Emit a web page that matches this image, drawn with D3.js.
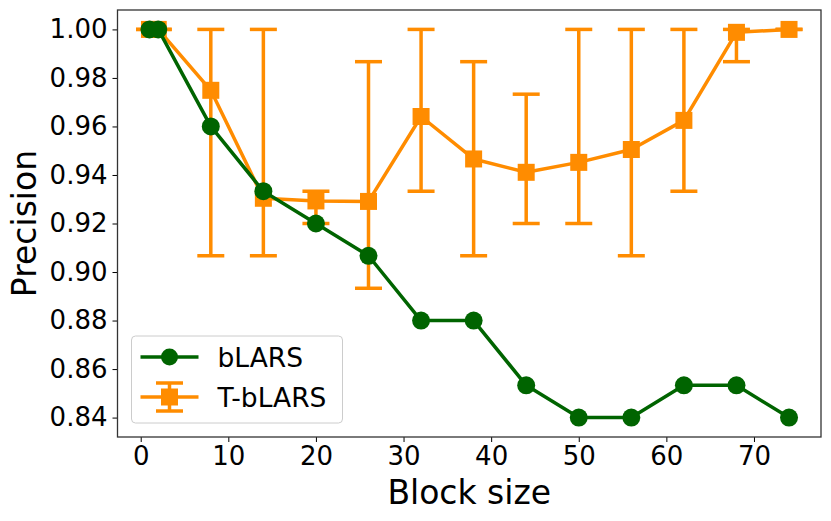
<!DOCTYPE html>
<html>
<head>
<meta charset="utf-8">
<script src="https://cdn.jsdelivr.net/npm/d3@7"></script>
<style>
  body { margin: 0; background: #fff; }
  text { font-family: "DejaVu Sans", sans-serif; fill: #000; }
</style>
</head>
<body>
<div id="chart"></div>
<script>
const blockSizes = [1, 2, 8, 14, 20, 26, 32, 38, 44, 50, 56, 62, 68, 74];
const blarsPrecision = [1.0, 1.0, 0.96, 0.9333, 0.92, 0.9067, 0.88, 0.88, 0.8533, 0.84, 0.84, 0.8533, 0.8533, 0.84];
const tblarsMean = [1.0, 1.0, 0.9749, 0.9304, 0.9293, 0.9291, 0.9641, 0.9466, 0.9411, 0.9452, 0.9505, 0.9625, 0.9988, 1.0];
const tblarsLow = [1.0, 1.0, 0.9067, 0.9067, 0.92, 0.8933, 0.9333, 0.9067, 0.92, 0.92, 0.9067, 0.9333, 0.9867, 1.0];
const tblarsHigh = [1.0, 1.0, 1.0, 1.0, 0.9333, 0.9867, 1.0, 0.9867, 0.9733, 1.0, 1.0, 1.0, 1.0, 1.0];
const xTicks = [0, 10, 20, 30, 40, 50, 60, 70];
const yTicks = [0.84, 0.86, 0.88, 0.90, 0.92, 0.94, 0.96, 0.98, 1.00];

const width = 831, height = 521,
      margin = {top: 10, right: 10, bottom: 84, left: 117.5};

const green = "#006400", orange = "#ff8c00";

const x = d3.scaleLinear().domain([-2.65, 77.65]).range([margin.left, width - margin.right]);
const y = d3.scaleLinear().domain([0.832, 1.008]).range([height - margin.bottom, margin.top]);

const svg = d3.select("#chart").append("svg")
  .attr("width", width)
  .attr("height", height);

// axes
const xAxis = svg.append("g")
  .attr("transform", `translate(0,${height - margin.bottom})`)
  .call(d3.axisBottom(x).tickValues(xTicks).tickSize(5).tickPadding(5).tickFormat(d3.format("d")));
const yAxis = svg.append("g")
  .attr("transform", `translate(${margin.left},0)`)
  .call(d3.axisLeft(y).tickValues(yTicks).tickSize(5).tickPadding(5).tickFormat(d3.format(".2f")));
[xAxis, yAxis].forEach(g => {
  g.select(".domain").remove();
  g.selectAll(".tick line").attr("stroke", "#000").attr("stroke-width", 1);
  g.selectAll(".tick text").style("font-size", "26px").attr("fill", "#000");
});

// T-bLARS error bars
const tb = blockSizes.map((d, i) => ({x: d, y: tblarsMean[i], lo: tblarsLow[i], hi: tblarsHigh[i]}));
const capHalf = 13.5;
const eb = svg.append("g").attr("stroke", orange).attr("stroke-width", 3.5);
eb.selectAll("line.bar").data(tb.filter(d => d.hi > d.lo)).enter().append("line")
  .attr("x1", d => x(d.x)).attr("x2", d => x(d.x))
  .attr("y1", d => y(d.lo)).attr("y2", d => y(d.hi));
eb.selectAll("line.caplo").data(tb).enter().append("line")
  .attr("x1", d => x(d.x) - capHalf).attr("x2", d => x(d.x) + capHalf)
  .attr("y1", d => y(d.lo)).attr("y2", d => y(d.lo));
eb.selectAll("line.caphi").data(tb).enter().append("line")
  .attr("x1", d => x(d.x) - capHalf).attr("x2", d => x(d.x) + capHalf)
  .attr("y1", d => y(d.hi)).attr("y2", d => y(d.hi));

const line = d3.line().x(d => x(d.x)).y(d => y(d.y));
svg.append("path").datum(tb)
  .attr("d", line).attr("fill", "none")
  .attr("stroke", orange).attr("stroke-width", 3.5).attr("stroke-linejoin", "round");
const sq = 17;
svg.append("g").selectAll("rect").data(tb).enter().append("rect")
  .attr("x", d => x(d.x) - sq / 2).attr("y", d => y(d.y) - sq / 2)
  .attr("width", sq).attr("height", sq).attr("fill", orange);

// bLARS
const bl = blockSizes.map((d, i) => ({x: d, y: blarsPrecision[i]}));
svg.append("path").datum(bl)
  .attr("d", line).attr("fill", "none")
  .attr("stroke", green).attr("stroke-width", 3.5).attr("stroke-linejoin", "round");
svg.append("g").selectAll("circle").data(bl).enter().append("circle")
  .attr("cx", d => x(d.x)).attr("cy", d => y(d.y)).attr("r", 9).attr("fill", green);

// frame
svg.append("rect")
  .attr("x", margin.left).attr("y", margin.top)
  .attr("width", width - margin.right - margin.left)
  .attr("height", height - margin.bottom - margin.top)
  .attr("fill", "none").attr("stroke", "#333").attr("stroke-width", 1.3);

// axis labels
svg.append("text")
  .attr("x", (margin.left + width - margin.right) / 2).attr("y", 504)
  .attr("text-anchor", "middle").style("font-size", "33px").text("Block size");
svg.append("text")
  .attr("transform", `translate(36,${(margin.top + height - margin.bottom) / 2}) rotate(-90)`)
  .attr("text-anchor", "middle").style("font-size", "33px").text("Precision");

// legend
const lg = svg.append("g").attr("transform", "translate(131.5,336)");
lg.append("rect").attr("width", 211).attr("height", 87).attr("rx", 4)
  .attr("fill", "#fff").attr("fill-opacity", 0.8).attr("stroke", "#ccc").attr("stroke-width", 1);
const g1 = lg.append("g").attr("transform", "translate(0,21)");
g1.append("line").attr("x1", 9).attr("x2", 67).attr("stroke", green).attr("stroke-width", 3.5);
g1.append("circle").attr("cx", 38).attr("r", 8.5).attr("fill", green);
g1.append("text").attr("x", 86).attr("dy", "0.36em").style("font-size", "26.5px").text("bLARS");
const g2 = lg.append("g").attr("transform", "translate(0,61)");
g2.append("line").attr("x1", 38).attr("x2", 38).attr("y1", -14).attr("y2", 14).attr("stroke", orange).attr("stroke-width", 3.5);
g2.append("line").attr("x1", 38 - capHalf).attr("x2", 38 + capHalf).attr("y1", -14).attr("y2", -14).attr("stroke", orange).attr("stroke-width", 3.5);
g2.append("line").attr("x1", 38 - capHalf).attr("x2", 38 + capHalf).attr("y1", 14).attr("y2", 14).attr("stroke", orange).attr("stroke-width", 3.5);
g2.append("line").attr("x1", 9).attr("x2", 67).attr("stroke", orange).attr("stroke-width", 3.5);
g2.append("rect").attr("x", 38 - sq / 2).attr("y", -sq / 2).attr("width", sq).attr("height", sq).attr("fill", orange);
g2.append("text").attr("x", 86).attr("dy", "0.36em").style("font-size", "26.5px").text("T-bLARS");
</script>
</body>
</html>
